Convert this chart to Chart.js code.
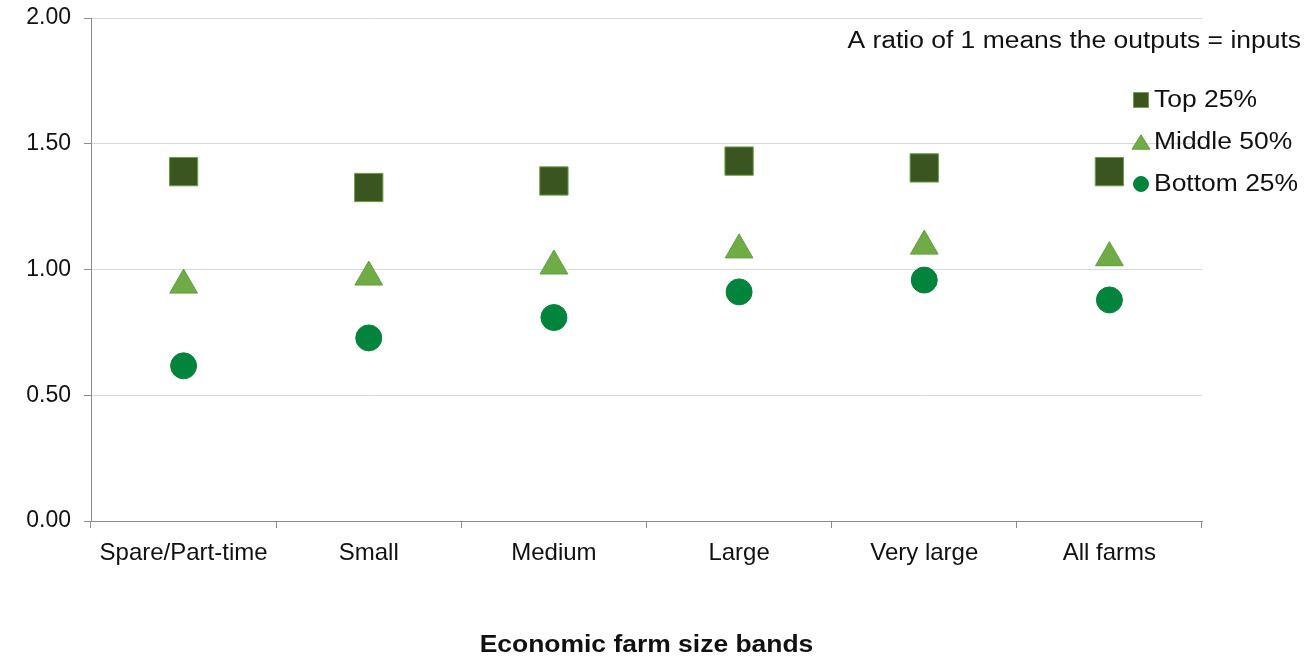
<!DOCTYPE html>
<html>
<head>
<meta charset="utf-8">
<script src="https://cdn.jsdelivr.net/npm/chart.js@4.4.1/dist/chart.umd.min.js"></script>
<style>
  html, body { margin: 0; padding: 0; background: #ffffff; overflow: hidden; }
  #wrap { width: 1307px; height: 659px; position: relative; overflow: hidden; }
  #c { position: absolute; left: 0; top: -3px; }
</style>
</head>
<body>
<div id="wrap"><canvas id="c" width="1307" height="662"></canvas></div>
<script>
const categories = ['Spare/Part-time', 'Small', 'Medium', 'Large', 'Very large', 'All farms'];
const top25 = [1.389, 1.326, 1.352, 1.431, 1.404, 1.389];
const middle50 = [0.938, 0.970, 1.014, 1.078, 1.093, 1.047];
const bottom25 = [0.617, 0.728, 0.809, 0.911, 0.958, 0.879];
const yTicks = [0, 0.5, 1.0, 1.5, 2.0];
const seriesNames = ['Top 25%', 'Middle 50%', 'Bottom 25%'];
const noteText = 'A ratio of 1 means the outputs = inputs';
const xTitle = 'Economic farm size bands';

const FONT = "'Liberation Sans', Arial, sans-serif";
const STRETCH = 1.15;
const OFFY = 3; // canvas is shifted up by this many pixels
const styles = [
  { fill: '#3a5520', stroke: '#6a9f45', shape: 'rect', r: 20 },
  { fill: '#6fac46', stroke: '#5f9e3b', shape: 'triangle', r: 16 },
  { fill: '#03843c', stroke: '#03843c', shape: 'circle', r: 13 }
];

function drawShape(ctx, shape, x, y, size, fill, stroke) {
  ctx.save();
  ctx.fillStyle = fill;
  ctx.strokeStyle = stroke;
  ctx.lineWidth = 1;
  ctx.beginPath();
  if (shape === 'rect') {
    ctx.rect(x - size / 2, y - size / 2, size, size);
  } else if (shape === 'triangle') {
    const h = size * 0.8;
    ctx.moveTo(x, y - h / 2);
    ctx.lineTo(x + size / 2, y + h / 2);
    ctx.lineTo(x - size / 2, y + h / 2);
    ctx.closePath();
  } else {
    ctx.arc(x, y, size / 2, 0, Math.PI * 2);
  }
  ctx.fill();
  ctx.stroke();
  ctx.restore();
}

// draw text stretched horizontally (source chart text is horizontally wider)
function stretchedText(ctx, text, x, y, align) {
  ctx.save();
  ctx.textAlign = align;
  ctx.translate(x, y);
  ctx.scale(STRETCH, 1);
  ctx.fillText(text, 0, 0);
  ctx.restore();
}

const overlay = {
  id: 'overlay',
  afterDraw(chart) {
    const ctx = chart.ctx;
    ctx.save();
    ctx.fillStyle = '#111111';
    ctx.font = '23px ' + FONT;
    ctx.textBaseline = 'middle';
    stretchedText(ctx, noteText, 1301, 42 + OFFY, 'right');
    const legY = [100, 142, 184];
    const legSize = [15, 18, 15];
    chart.data.datasets.forEach((ds, i) => {
      const s = styles[i];
      drawShape(ctx, s.shape, 1141, legY[i] + OFFY, legSize[i], s.fill, s.stroke);
      ctx.fillStyle = '#111111';
      stretchedText(ctx, ds.label, 1154, legY[i] + 1 + OFFY, 'left');
    });
    // axis title
    const area = chart.chartArea;
    ctx.font = 'bold 23px ' + FONT;
    stretchedText(ctx, xTitle, (area.left + area.right) / 2, 646 + OFFY, 'center');
    ctx.restore();
  }
};

const datasets = [top25, middle50, bottom25].map((vals, i) => ({
  label: seriesNames[i],
  data: vals,
  showLine: false,
  pointStyle: styles[i].shape,
  pointRadius: styles[i].r,
  pointHoverRadius: styles[i].r,
  backgroundColor: styles[i].fill,
  borderColor: styles[i].stroke,
  pointBorderWidth: 1
}));

new Chart(document.getElementById('c'), {
  type: 'line',
  data: { labels: categories, datasets },
  options: {
    responsive: false,
    animation: false,
    devicePixelRatio: 1,
    layout: { padding: { top: 15, right: 105, left: 0, bottom: 0 } },
    plugins: { legend: { display: false }, tooltip: { enabled: false } },
    scales: {
      x: {
        type: 'category',
        offset: true,
        grid: { offset: true, drawOnChartArea: false, drawTicks: true, tickLength: 7, color: '#8c8c8c' },
        border: { color: '#8c8c8c', width: 1 },
        ticks: { color: '#111111', font: { family: FONT, size: 24 }, padding: 11, maxRotation: 0 },
        afterFit(scale) { scale.height = 138; scale.paddingLeft = 0; scale.paddingRight = 0; }
      },
      y: {
        min: 0, max: 2,
        afterBuildTicks(scale) { scale.ticks = yTicks.map(v => ({ value: v })); },
        grid: { color: '#d9d9d9', tickColor: '#8c8c8c', tickLength: 7, drawTicks: true },
        border: { color: '#8c8c8c', width: 1 },
        ticks: { color: '#111111', font: { family: FONT, size: 23 }, padding: 13, callback: v => Number(v).toFixed(2) },
        afterFit(scale) { scale.width = 91; scale.paddingTop = 0; scale.paddingBottom = 0; }
      }
    }
  },
  plugins: [overlay]
});
</script>
</body>
</html>
